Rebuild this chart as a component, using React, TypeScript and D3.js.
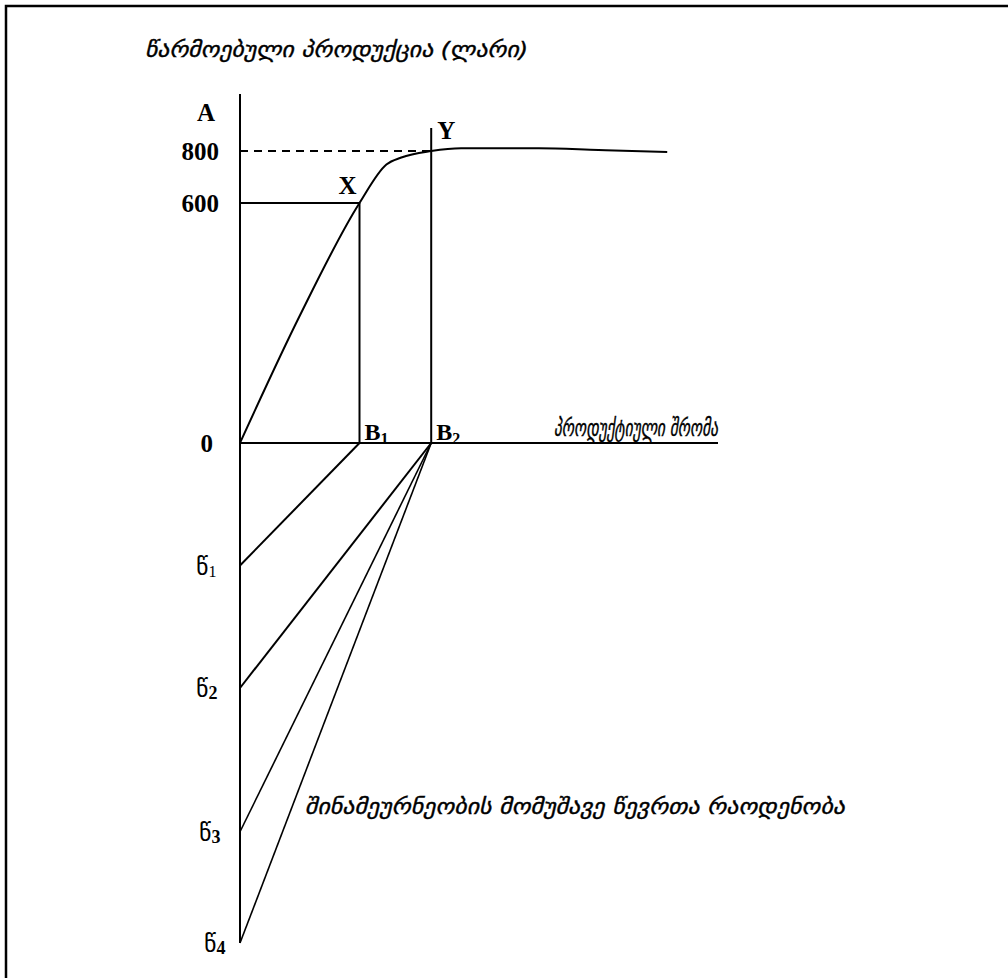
import React from "react";
import * as d3 from "d3";

// ---- data ----
// production curve: labour units (x) vs produced output in lari (y)
const curveLabour = [0, 1.0, 2.0, 2.45, 2.7, 3.2, 3.7, 5.0, 6.0, 7.15];
const curveOutput = [0, 318, 600, 748, 775, 800, 811, 811, 804, 796];

const yTickValues = [0, 600, 800];
const yTickLabels = ["0", "600", "800"];

// points on labour axis
const pointLabels = ["B1", "B2"];
const pointLabour = [2.0, 3.2];
const pointOutput = [600, 800];
const pointMarks = ["X", "Y"];

// household members (lower half)
const memberLabels = ["1", "2", "3", "4"];
const memberLevels = [0.98, 1.96, 3.11, 4.0];
const memberTarget = [0, 1, 1, 1]; // index into pointLabour

const titleText = "წარმოებული პროდუქცია (ლარი)";
const xAxisText = "პროდუქტიული შრომა";
const lowerText = "შინამეურნეობის მომუშავე წევრთა რაოდენობა";

export default function App() {
  const W = 1008;
  const H = 978;
  const x = d3.scaleLinear().domain([0, 8]).range([240, 718]);
  const y = d3.scaleLinear().domain([0, 600, 800]).range([443, 203, 151]);
  const m = d3.scaleLinear().domain([0, 4]).range([443, 943]);

  const line = d3
    .line<number>()
    .x((_, i) => x(curveLabour[i]))
    .y((d) => y(d))
    .curve(d3.curveMonotoneX);
  const curvePath = line(curveOutput) || "";

  const serif = "'Liberation Serif', 'Times New Roman', serif";
  const geo = "'DejaVu Sans', sans-serif";
  const x0 = x(0);
  const yTop = 94;

  return (
    <svg
      width={W}
      height={H}
      style={{ position: "absolute", left: 0, top: 0, background: "#fff" }}
    >
      <rect x={0} y={0} width={W} height={H} fill="#fff" />
      {/* frame */}
      <rect x={6} y={6} width={W + 20} height={H + 20} fill="none" stroke="#000" strokeWidth={2.5} />

      {/* title */}
      <text
        x={145}
        y={57}
        fontFamily={geo}
        fontStyle="italic"
        fontSize={22}
        stroke="#000"
        strokeWidth={0.4}
        textLength={383}
        lengthAdjust="spacingAndGlyphs"
      >
        {titleText}
      </text>

      {/* axes */}
      <line x1={x0} y1={yTop} x2={x0} y2={m(4)} stroke="#000" strokeWidth={2} />
      <line x1={x0} y1={y(0)} x2={x(8)} y2={y(0)} stroke="#000" strokeWidth={2} />
      <text x={206} y={121} fontFamily={serif} fontWeight="bold" fontSize={25} textAnchor="middle">A</text>

      {/* y tick labels */}
      {yTickValues.map((v, i) => (
        <text
          key={v}
          x={i === 0 ? 213 : 219}
          y={y(v) + 9}
          fontFamily={serif}
          fontWeight="bold"
          fontSize={25}
          textAnchor="end"
        >
          {yTickLabels[i]}
        </text>
      ))}

      {/* X guides */}
      <line x1={x0} y1={y(pointOutput[0])} x2={x(pointLabour[0])} y2={y(pointOutput[0])} stroke="#000" strokeWidth={2} />
      <line x1={x(pointLabour[0])} y1={y(pointOutput[0])} x2={x(pointLabour[0])} y2={y(0)} stroke="#000" strokeWidth={2} />
      {/* Y guides */}
      <line x1={x0} y1={y(pointOutput[1])} x2={x(pointLabour[1])} y2={y(pointOutput[1])} stroke="#000" strokeWidth={1.8} strokeDasharray="8,6" />
      <line x1={x(pointLabour[1])} y1={128} x2={x(pointLabour[1])} y2={y(0)} stroke="#000" strokeWidth={2} />

      {/* curve */}
      <path d={curvePath} fill="none" stroke="#000" strokeWidth={2} />

      {/* point marks */}
      <text x={x(pointLabour[0]) - 3} y={y(pointOutput[0]) - 9} fontFamily={serif} fontWeight="bold" fontSize={25} textAnchor="end">{pointMarks[0]}</text>
      <text x={x(pointLabour[1]) + 6} y={139} fontFamily={serif} fontWeight="bold" fontSize={25}>{pointMarks[1]}</text>

      {/* B labels */}
      {pointLabels.map((lab, i) => (
        <text key={lab} x={x(pointLabour[i]) + 5} y={y(0) - 3} fontFamily={serif} fontWeight="bold" fontSize={24}>
          {lab[0]}
          <tspan fontSize={16} dy={4}>{lab.slice(1)}</tspan>
        </text>
      ))}

      {/* x axis label */}
      <text
        x={554}
        y={436}
        fontFamily={geo}
        fontStyle="italic"
        fontSize={23}
        stroke="#000"
        strokeWidth={0.4}
        textLength={164}
        lengthAdjust="spacingAndGlyphs"
      >
        {xAxisText}
      </text>

      {/* member lines */}
      {memberLevels.map((lv, i) => (
        <line
          key={"ml" + i}
          x1={x0}
          y1={m(lv)}
          x2={x(pointLabour[memberTarget[i]])}
          y2={y(0)}
          stroke="#000"
          strokeWidth={i >= 2 ? 1.6 : 2}
        />
      ))}

      {/* member labels */}
      {memberLevels.map((lv, i) => (
        <text key={"mt" + i} x={[196, 196, 199, 204][i]} y={m(lv) + 9} fontSize={24}>
          <tspan fontFamily={geo}>წ</tspan>
          <tspan fontFamily={serif} fontSize={i === 0 ? 16 : 18} fontWeight={i === 0 ? "normal" : "bold"} dy={2}>
            {memberLabels[i]}
          </tspan>
        </text>
      ))}

      {/* lower label */}
      <text
        x={305}
        y={814}
        fontFamily={geo}
        fontStyle="italic"
        fontSize={22}
        stroke="#000"
        strokeWidth={0.4}
        textLength={540}
        lengthAdjust="spacingAndGlyphs"
      >
        {lowerText}
      </text>
    </svg>
  );
}
